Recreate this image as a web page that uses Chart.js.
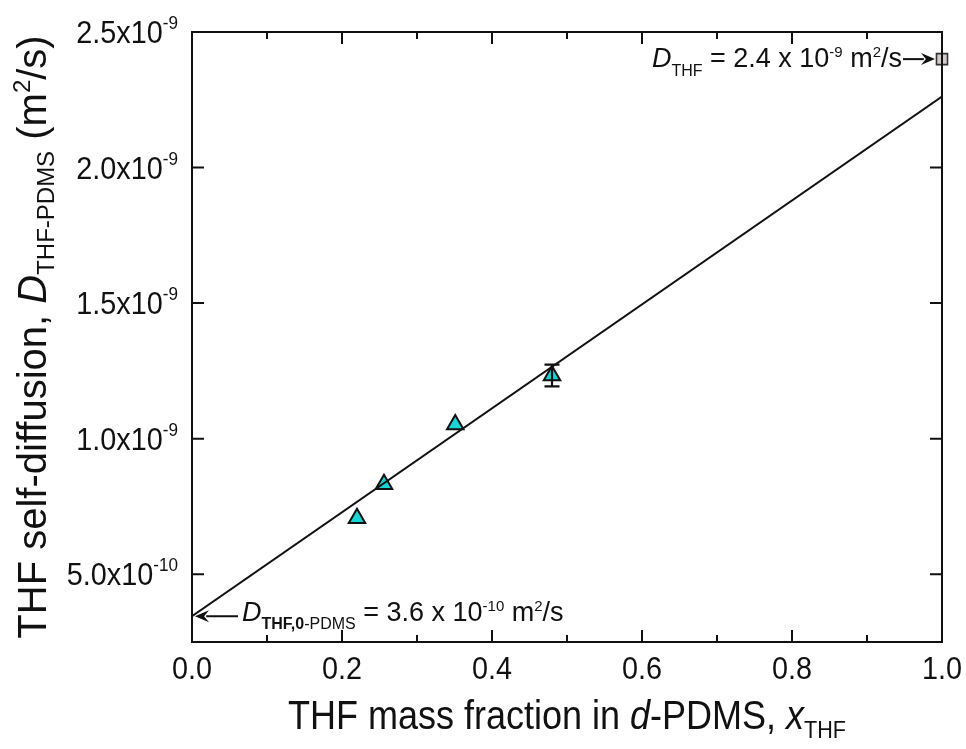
<!DOCTYPE html>
<html>
<head>
<meta charset="utf-8">
<title>THF self-diffusion vs THF mass fraction</title>
<script src="https://cdn.jsdelivr.net/npm/chart.js@4"></script>
<style>
  html,body{margin:0;padding:0;background:#fff;}
  #wrap{width:966px;height:749px;position:relative;}
</style>
</head>
<body>
<div id="wrap"><canvas id="diff-chart"></canvas></div>
<script>
/* THF self-diffusion in d-PDMS */
// measured points (triangles)
const xFrac = [0.220, 0.256, 0.351, 0.480];
const dSelf = [0.706e-9, 0.832e-9, 1.052e-9, 1.233e-9];
const dErr  = [0, 0, 0, 0.040e-9];
// linear fit end points
const fitX = [0.0, 1.0];
const fitD = [0.345e-9, 2.262e-9];
// pure THF point
const pureX = [1.0];
const pureD = [2.40e-9];
// axes
const xMajor = [0, 0.2, 0.4, 0.6, 0.8, 1.0];
const xMinor = [0.1, 0.3, 0.5, 0.7, 0.9];
const xLabels = ['0.0', '0.2', '0.4', '0.6', '0.8', '1.0'];
const yMajor = [5e-10, 1.0e-9, 1.5e-9, 2.0e-9, 2.5e-9];
const yMant = ['5.0', '1.0', '1.5', '2.0', '2.5'];
const yExpo = ['-10', '-9', '-9', '-9', '-9'];

(function(){
  const FAM = '"Liberation Sans", Arial, sans-serif';
  function fontOf(r){return (r.i?'italic ':'')+(r.b?'bold ':'')+r.s+'px '+FAM;}
  function widthOf(ctx,r,sx){ctx.font=fontOf(r);return ctx.measureText(r.t).width*sx;}
  // draw a run of text pieces (sub/superscripts via dy), squeezed by sx
  function drawRuns(ctx,runs,x,y,align,sx){
    sx=sx||0.9;
    const ws=runs.map(r=>widthOf(ctx,r,sx));const tot=ws.reduce((a,b)=>a+b,0);
    let cx=align==='right'?x-tot:align==='center'?x-tot/2:x;
    ctx.textAlign='left';ctx.textBaseline='alphabetic';ctx.fillStyle='#111';
    runs.forEach((r,i)=>{ctx.save();ctx.font=fontOf(r);ctx.translate(cx,y+(r.dy||0));ctx.scale(sx,1);ctx.fillText(r.t,0,0);ctx.restore();cx+=ws[i];});
  }
  function arrow(ctx,x1,y1,x2,y2){
    const a=Math.atan2(y2-y1,x2-x1),L=14,W=6;
    ctx.save();ctx.strokeStyle='#111';ctx.fillStyle='#111';ctx.lineWidth=2;
    ctx.beginPath();ctx.moveTo(x1,y1);ctx.lineTo(x2-Math.cos(a)*L*0.8,y2-Math.sin(a)*L*0.8);ctx.stroke();
    ctx.beginPath();ctx.moveTo(x2,y2);
    ctx.lineTo(x2-Math.cos(a)*L-Math.sin(a)*W,y2-Math.sin(a)*L+Math.cos(a)*W);
    ctx.lineTo(x2-Math.cos(a)*L*0.65,y2-Math.sin(a)*L*0.65);
    ctx.lineTo(x2-Math.cos(a)*L+Math.sin(a)*W,y2-Math.sin(a)*L-Math.cos(a)*W);
    ctx.closePath();ctx.fill();ctx.restore();
  }

  const errorBars={id:'errorBars',afterDatasetsDraw(chart){
    const ctx=chart.ctx,xs=chart.scales.x,ys=chart.scales.y;
    ctx.save();ctx.strokeStyle='#111';ctx.lineWidth=2.2;
    xFrac.forEach((x,i)=>{
      if(!dErr[i])return;
      const px=xs.getPixelForValue(x),y1=ys.getPixelForValue(dSelf[i]+dErr[i]),y2=ys.getPixelForValue(dSelf[i]-dErr[i]);
      ctx.beginPath();ctx.moveTo(px,y1);ctx.lineTo(px,y2);
      ctx.moveTo(px-7.5,y1);ctx.lineTo(px+7.5,y1);ctx.moveTo(px-7.5,y2);ctx.lineTo(px+7.5,y2);ctx.stroke();
    });
    ctx.restore();
  }};

  const frame={id:'frame',afterDraw(chart){
    const ctx=chart.ctx,a=chart.chartArea,xs=chart.scales.x,ys=chart.scales.y;
    ctx.save();ctx.strokeStyle='#111';ctx.lineWidth=2;
    ctx.strokeRect(a.left,a.top,a.right-a.left,a.bottom-a.top);
    ctx.beginPath();
    xs.ticks.forEach(t=>{
      const px=xs.getPixelForValue(t.value);const len=xMajor.includes(t.value)?12:7;
      ctx.moveTo(px,a.bottom);ctx.lineTo(px,a.bottom-len);
      ctx.moveTo(px,a.top);ctx.lineTo(px,a.top+len);
    });
    ys.ticks.forEach(t=>{
      const py=ys.getPixelForValue(t.value);
      ctx.moveTo(a.left,py);ctx.lineTo(a.left+12,py);
      ctx.moveTo(a.right,py);ctx.lineTo(a.right-12,py);
    });
    ctx.stroke();ctx.restore();

    // tick labels
    xMajor.forEach((v,i)=>drawRuns(ctx,[{t:xLabels[i],s:32}],xs.getPixelForValue(v),a.bottom+37,'center'));
    yMajor.forEach((v,i)=>drawRuns(ctx,[{t:yMant[i]+'x10',s:32},{t:yExpo[i],s:19,dy:-14}],a.left-14,ys.getPixelForValue(v)+11,'right'));

    // axis titles
    drawRuns(ctx,[{t:'THF mass fraction in ',s:40},{t:'d',s:40,i:true},{t:'-PDMS, ',s:40},{t:'x',s:40,i:true},{t:'THF',s:24,dy:9}],
      (a.left+a.right)/2,a.bottom+87,'center');
    ctx.save();ctx.translate(46,(a.top+a.bottom)/2);ctx.rotate(-Math.PI/2);
    drawRuns(ctx,[{t:'THF self-diffusion, ',s:40},{t:'D',s:40,i:true},{t:'THF-PDMS',s:24,dy:8},{t:' (m',s:40},{t:'2',s:24,dy:-16},{t:'/s)',s:40}],0,0,'center',1.0);
    ctx.restore();

    // annotations
    const sx=xs.getPixelForValue(pureX[0]),sy=ys.getPixelForValue(pureD[0]);
    arrow(ctx,sx-39,sy,sx-7,sy);
    drawRuns(ctx,[{t:'D',s:27,i:true},{t:'THF',s:16,dy:9},{t:' = 2.4 x 10',s:27},{t:'-9',s:15,dy:-10},{t:' m',s:27},{t:'2',s:15,dy:-10},{t:'/s',s:27}],sx-40,sy+8,'right',1.0);
    const ix=xs.getPixelForValue(fitX[0]),iy=ys.getPixelForValue(fitD[0]);
    arrow(ctx,ix+46,iy,ix+3,iy);
    drawRuns(ctx,[{t:'D',s:27,i:true},{t:'THF,0',s:16,b:true,dy:8},{t:'-PDMS',s:16,dy:8},{t:' = 3.6 x 10',s:27},{t:'-10',s:15,dy:-10},{t:' m',s:27},{t:'2',s:15,dy:-10},{t:'/s',s:27}],ix+50,iy+5,'left',1.0);
  }};

  function init(){
    const el=document.getElementById('diff-chart');
    new Chart(el,{type:'scatter',
      data:{datasets:[
        {label:'fit',data:fitX.map((x,i)=>({x:x,y:fitD[i]})),showLine:true,borderColor:'#111',borderWidth:2,pointRadius:0,fill:false},
        {label:'THF in d-PDMS',data:xFrac.map((x,i)=>({x:x,y:dSelf[i]})),pointStyle:'triangle',pointRadius:9.5,pointBackgroundColor:'#18d4d4',pointBorderColor:'#111',pointBorderWidth:2},
        {label:'pure THF',data:pureX.map((x,i)=>({x:x,y:pureD[i]})),pointStyle:'rect',pointRadius:7.8,pointBackgroundColor:'#d2cbcc',pointBorderColor:'#333',pointBorderWidth:1.6,clip:false}
      ]},
      options:{responsive:true,maintainAspectRatio:false,animation:false,
        layout:{padding:{left:192,right:24,top:32,bottom:107}},
        plugins:{legend:{display:false},tooltip:{enabled:false}},
        scales:{
          x:{type:'linear',min:0,max:1,ticks:{display:false},grid:{display:false,drawTicks:false},border:{display:false},
            afterBuildTicks:s=>{s.ticks=xMajor.concat(xMinor).map(v=>({value:v}));}},
          y:{type:'linear',min:2.5e-10,max:2.5e-9,ticks:{display:false},grid:{display:false,drawTicks:false},border:{display:false},
            afterBuildTicks:s=>{s.ticks=yMajor.map(v=>({value:v}));}}
        }},
      plugins:[errorBars,frame]});
  }
  document.addEventListener('DOMContentLoaded',init);
})();
</script>
</body>
</html>
